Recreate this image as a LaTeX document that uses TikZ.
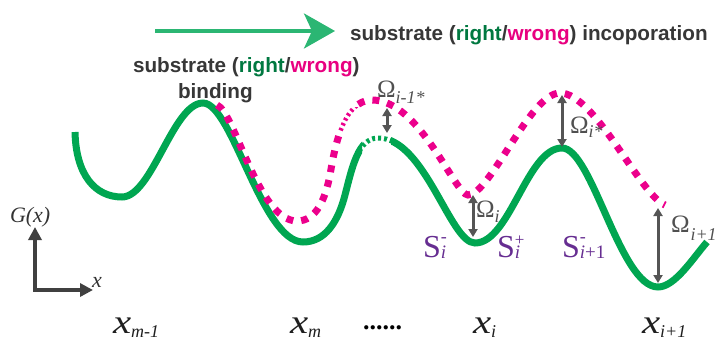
\documentclass[tikz,border=0pt]{standalone}
\usepackage{fontspec}
\setmainfont{Liberation Serif}
\newfontfamily\lsans{Liberation Sans}
\usetikzlibrary{arrows.meta}
\definecolor{curvegreen}{RGB}{0,166,81}
\definecolor{arrowgreen}{RGB}{43,182,115}
\definecolor{rightgreen}{RGB}{0,120,64}
\definecolor{wrongmag}{RGB}{232,0,128}
\definecolor{curvemag}{RGB}{236,0,140}
\definecolor{txtgray}{RGB}{55,55,55}
\definecolor{omgray}{RGB}{80,80,80}
\definecolor{arrgray}{RGB}{85,85,85}
\definecolor{spurple}{RGB}{102,45,145}
\definecolor{axgray}{RGB}{64,64,64}

\newcommand\greenpath{(75,132) .. controls (76,175) and (95,197) .. (122,197)
 .. controls (152,197) and (173,103) .. (203,103)
 .. controls (232,103) and (262,242) .. (303,242)
 .. controls (325,242) and (338,222) .. (345,195)
 .. controls (352,168) and (358,138) .. (378,138)
 .. controls (425,138) and (450,243) .. (475,243)
 .. controls (510,243) and (527,148) .. (562,148)
 .. controls (592,148) and (620,287) .. (658,287)
 .. controls (675,287) and (693,258) .. (707,242)}
\newcommand\magpath{(217,105) .. controls (235,112) and (258,221) .. (297,221)
 .. controls (316,221) and (325,200) .. (330,175)
 .. controls (334,152) and (342,100) .. (372,100)
 .. controls (420,100) and (455,195) .. (468,195)
 .. controls (490,195) and (530,93) .. (560,93)
 .. controls (595,93) and (640,195) .. (665,205)}

\newcommand\Om[2][-6pt]{Ω\raisebox{#1}{\fontsize{18}{18}\selectfont\itshape #2}}
\newcommand\xl[1]{\scalebox{1.2}[1]{x}\raisebox{-4pt}{\fontsize{18}{18}\selectfont #1}}

\tikzset{
 greenthick/.style={draw=curvegreen, line width=7pt},
 greenthin/.style={draw=curvegreen, line width=5pt, dash pattern=on 3pt off 3pt},
 magdot/.style={draw=curvemag, line width=7pt, dash pattern=on 7pt off 8pt},
 magthin/.style={draw=curvemag, line width=4.5pt, dash pattern=on 2.5pt off 3pt},
 omarrow/.style={draw=arrgray, line width=3pt, {Triangle[length=8pt,width=9pt]}-{Triangle[length=8pt,width=9pt]}},
 axarrow/.style={draw=axgray, line width=4pt, line join=miter, {Triangle[length=13pt,width=13pt]}-{Triangle[length=13pt,width=13pt]}},
 toparrow/.style={draw=arrowgreen, line width=3.5pt, -{Stealth[length=31pt,width=35pt,inset=8pt]}},
 txt/.style={anchor=base west, inner sep=0pt, outer sep=0pt},
 boldlab/.style={txt, text=txtgray, font=\lsans\bfseries\fontsize{20.7}{24}\selectfont},
 omlab/.style={txt, text=omgray, font=\fontsize{25}{25}\selectfont},
 slab/.style={txt, text=spurple, font=\fontsize{32}{32}\selectfont},
 xlab/.style={txt, text=black!88, font=\fontsize{34}{34}\selectfont\itshape},
 axlab/.style={txt, text=black!80, font=\fontsize{22}{22}\selectfont\itshape},
}

\begin{document}
\begin{tikzpicture}[x=1pt,y=-1pt]
\useasboundingbox (0,0) rectangle (719,340);

% top arrow and text
\coordinate (ta0) at (155,31);
\coordinate (ta1) at (335,31);
\draw[toparrow] (ta0) -- (ta1);
\node[boldlab] (inc) at (350,40) {substrate (\textcolor{rightgreen}{right}/\textcolor{wrongmag}{wrong}) incoporation};
\node[boldlab] (bind1) at (133,72) {substrate (\textcolor{rightgreen}{right}/\textcolor{wrongmag}{wrong})};
\node[boldlab] (bind2) at (178,98) {binding};

% green curve
\begin{scope}
\clip (0,0) rectangle (362,340) (391,0) rectangle (719,340);
\draw[greenthick] \greenpath;
\end{scope}
\begin{scope}
\clip (362,0) rectangle (391,340);
\draw[greenthin] \greenpath;
\end{scope}

% magenta curve
\begin{scope}
\clip (0,0) rectangle (719,107) (0,131) rectangle (719,340) (0,107) rectangle (331,131) (362,107) rectangle (719,131);
\draw[magdot] \magpath;
\end{scope}
\begin{scope}
\clip (331,107) rectangle (362,131);
\draw[magthin] \magpath;
\end{scope}

% Omega arrows
\coordinate (o1a) at (387,108); \coordinate (o1b) at (387,133);
\coordinate (o2a) at (473,195); \coordinate (o2b) at (473,237);
\coordinate (o3a) at (562,95);  \coordinate (o3b) at (562,147);
\coordinate (o4a) at (658,208); \coordinate (o4b) at (658,283);
\draw[omarrow] (o1a) -- (o1b);
\draw[omarrow] (o2a) -- (o2b);
\draw[omarrow] (o3a) -- (o3b);
\draw[omarrow] (o4a) -- (o4b);

\node[omlab] (om1) at (377,97) {\Om{i-1*}};
\node[omlab] (om2) at (476,217) {\Om[-5pt]{i}};
\node[omlab] (om3) at (570,133) {\Om[-4pt]{i*}};
\node[omlab] (om4) at (671,232) {\Om[-8pt]{\hspace{1pt}i+1}};

% S labels
\node[slab] (s1) at (423,257) {S\rlap{\raisebox{15pt}{\fontsize{18}{18}\selectfont -}}\raisebox{-1pt}{\fontsize{19}{19}\selectfont\itshape i}};
\node[slab] (s2) at (497,257) {S\rlap{\raisebox{12pt}{\fontsize{17}{17}\selectfont +}}\raisebox{-1pt}{\fontsize{19}{19}\selectfont\itshape i}};
\node[slab] (s3) at (562,257) {S\rlap{\raisebox{15pt}{\fontsize{18}{18}\selectfont -}}\raisebox{-1pt}{\fontsize{19}{19}\selectfont{\itshape i}+1}};

% axes
\coordinate (ax0) at (35,290);
\coordinate (axy) at (35,227);
\coordinate (axx) at (93,290);
\draw[axarrow] (axy) -- (ax0) -- (axx);
\node[axlab] (gx) at (10,222) {G(x)};
\node[axlab] (xx) at (92,287) {x};

% bottom labels
\node[xlab] (x1) at (113,333) {\xl{m-1}};
\node[xlab] (x2) at (290,333) {\xl{m}};
\node[txt, font=\bfseries\fontsize{26}{26}\selectfont] (dots) at (363,329) {......};
\node[xlab] (x3) at (473,333) {\xl{i}};
\node[xlab] (x4) at (642,333) {\xl{i+1}};
\end{tikzpicture}
\end{document}
